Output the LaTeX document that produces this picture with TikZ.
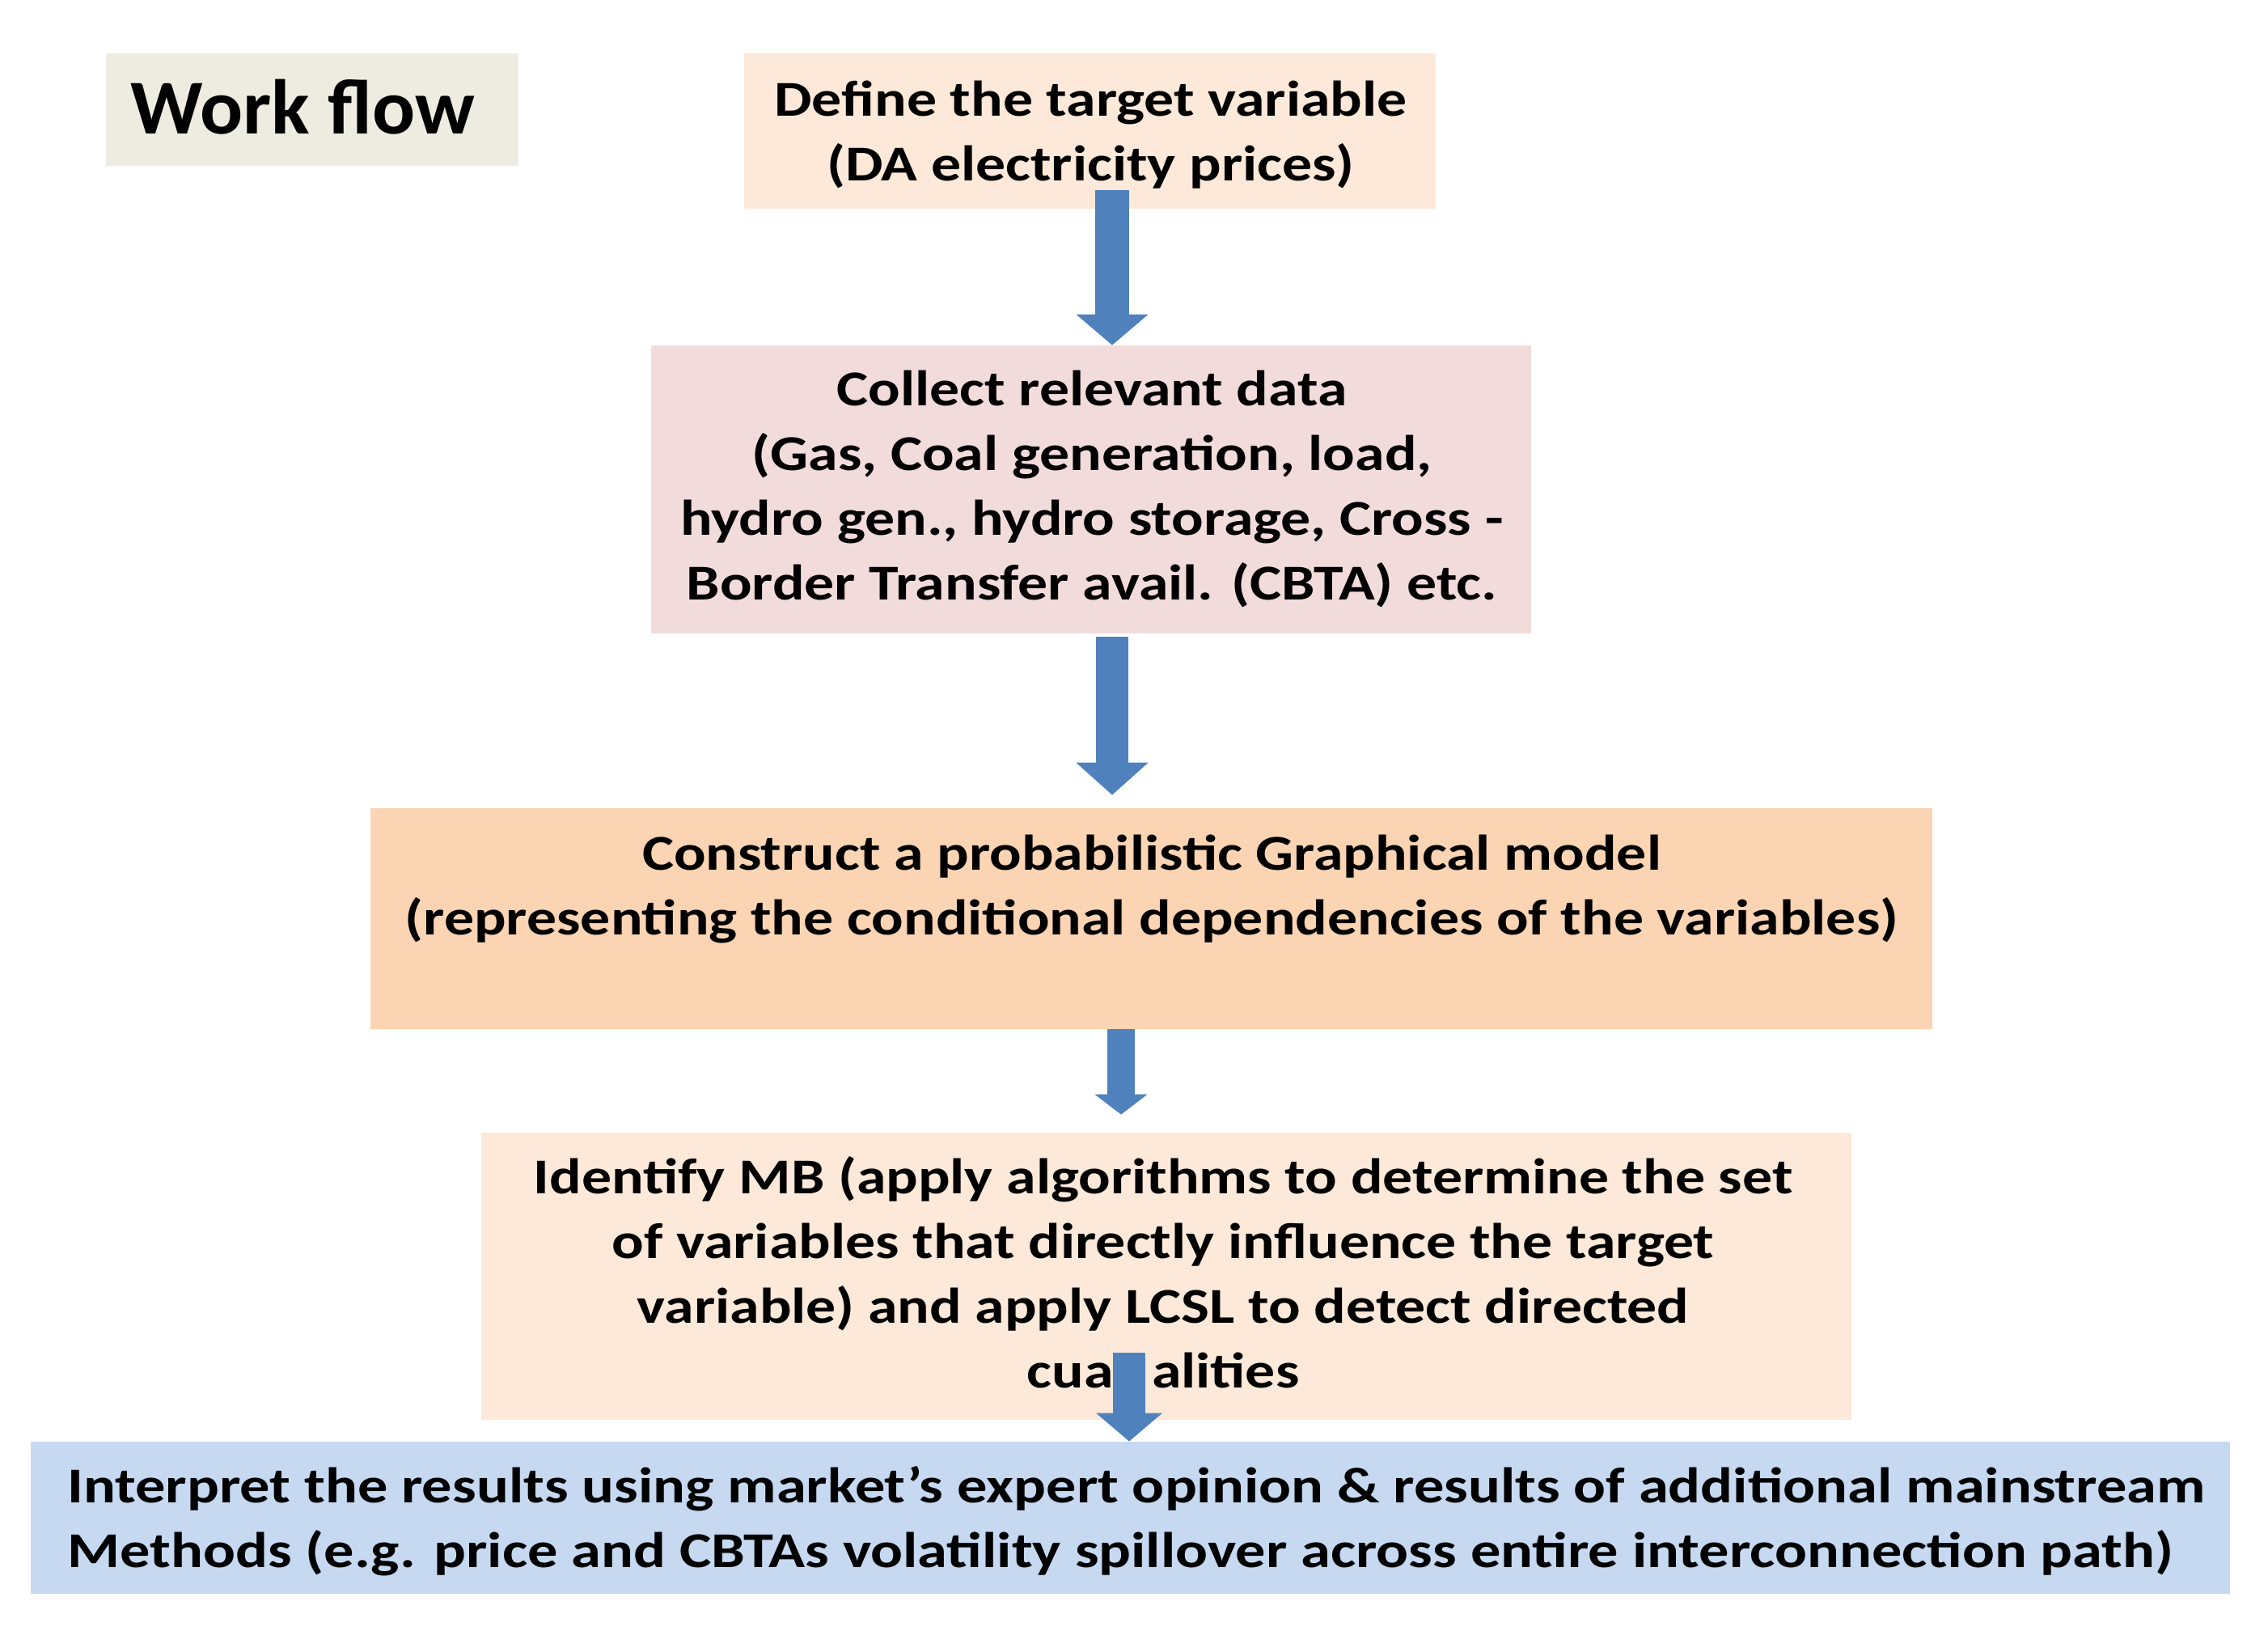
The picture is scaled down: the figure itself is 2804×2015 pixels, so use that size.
\documentclass[tikz,border=0pt]{standalone}
\usepackage{graphicx}
\usepackage{fontspec}
\setmainfont{Carlito}
\usetikzlibrary{arrows.meta}
\definecolor{wfbg}{HTML}{EEECE1}
\definecolor{peachlt}{HTML}{FDE9D9}
\definecolor{pinklt}{HTML}{F2DCDB}
\definecolor{peachmd}{HTML}{FBD4B4}
\definecolor{bluelt}{HTML}{C6D9F1}
\definecolor{arrowblue}{HTML}{4F81BD}
\newcommand\ctrlines[1]{\scalebox{1.19}[1]{\begin{tabular}[t]{@{}c@{}}#1\end{tabular}}}
\newcommand\leftlines[1]{\scalebox{1.2}[1]{\begin{tabular}[t]{@{}l@{}}#1\end{tabular}}}
\tikzset{
  flowbox/.style={rectangle, draw=none, inner sep=0pt},
  flowtext/.style={inner sep=0pt, anchor=base, font=\fontsize{31}{40}\selectfont\bfseries},
  flowarrow/.style={line width=20pt, draw=arrowblue, -{Triangle[width=43.5pt,length=19pt]}},
}
\begin{document}
\begin{tikzpicture}[x=0.5pt,y=-0.5pt]
\useasboundingbox[fill=white] (0,0) rectangle (2804,2015);
% boxes
\node[flowbox, fill=wfbg, minimum width=255pt, minimum height=69.5pt] (wf) at (386,135.5) {};
\node[flowbox, fill=peachlt, minimum width=427.5pt, minimum height=96pt] (b1) at (1347.5,162) {};
\node[flowbox, fill=pinklt, minimum width=544pt, minimum height=178pt] (b2) at (1349,605) {};
\node[flowbox, fill=peachmd, minimum width=965.5pt, minimum height=136.5pt] (b3) at (1423.5,1135.5) {};
\node[flowbox, fill=peachlt, minimum width=847pt, minimum height=177.5pt] (b4) at (1442,1577.5) {};
\node[flowbox, fill=bluelt, minimum width=1359.5pt, minimum height=94pt] (b5) at (1397.5,1876) {};
% texts
\node[inner sep=0pt, anchor=base, font=\fontsize{48}{56}\selectfont\bfseries] (twf) at (374.5,165) {\scalebox{1.03}[1]{Work flow}};
\node[flowtext] (t1) at (1348.5,143) {\ctrlines{Define the target variable\\(DA electricity prices)}};
\node[flowtext] (t2) at (1350,501) {\ctrlines{Collect relevant data\\(Gas, Coal generation, load,\\hydro gen., hydro storage, Cross -\\Border Transfer avail. (CBTA) etc.}};
\node[flowtext] (t3) at (1424,1075) {\ctrlines{Construct a probabilistic Graphical model\\(representing the conditional dependencies of the variables)}};
\node[flowtext] (t4) at (1438,1475) {\ctrlines{Identify MB (apply algorithms to determine the set\\of variables that directly influence the target\\variable) and apply LCSL to detect directed\\cua\hspace{20pt}alities}};
\node[flowtext, anchor=base west] (t5) at (83,1857) {\leftlines{Interpret the results using market’s expert opinion \& results of additional mainstream\\Methods (e.g. price and CBTAs volatility spillover across entire interconnection path)}};
% arrows
\coordinate (a1s) at (1375,235);
\coordinate (a2s) at (1375,787);
\coordinate (a3s) at (1386,1272);
\coordinate (a4s) at (1396,1672);
\draw[flowarrow, line width=21pt] (a1s) -- (a1s |- b2.north);
\draw[flowarrow, -{Triangle[width=43.5pt,length=20pt]}] (a2s) -- ([yshift=8pt]a2s |- b3.north);
\draw[flowarrow, line width=17pt, -{Triangle[width=32pt,length=12.5pt]}] (a3s) -- ([yshift=11pt]a3s |- b4.north);
\draw[flowarrow, -{Triangle[width=40pt,length=17.5pt]}] (a4s) -- (a4s |- b5.north);
\end{tikzpicture}
\end{document}
